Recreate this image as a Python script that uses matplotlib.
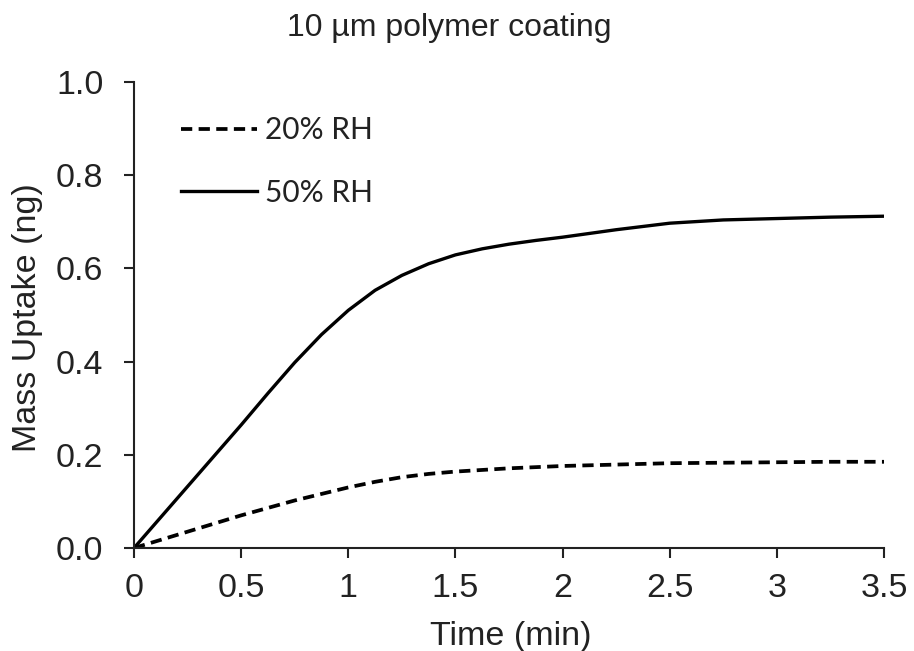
import matplotlib
matplotlib.use("Agg")
import matplotlib.pyplot as plt

# mass uptake readings (ng) against time (min)
time_50rh = [0, 0.125, 0.25, 0.375, 0.5, 0.625, 0.75, 0.875, 1.0, 1.125, 1.25, 1.375, 1.5,
             1.625, 1.75, 1.875, 2.0, 2.25, 2.5, 2.75, 3.0, 3.25, 3.5]
uptake_50rh = [0, 0.066, 0.132, 0.198, 0.264, 0.332, 0.398, 0.458, 0.51, 0.553, 0.585, 0.61, 0.629,
               0.642, 0.652, 0.66, 0.667, 0.683, 0.697, 0.704, 0.707, 0.71, 0.712]

time_20rh = [0, 0.25, 0.5, 0.75, 1.0, 1.125, 1.25, 1.375, 1.5, 1.75, 2.0, 2.25, 2.5, 2.75, 3.0, 3.25, 3.5]
uptake_20rh = [0, 0.035, 0.07, 0.102, 0.13, 0.142, 0.152, 0.159, 0.164, 0.171, 0.176, 0.179, 0.182,
               0.183, 0.184, 0.185, 0.185]

xticks = [0, 0.5, 1, 1.5, 2, 2.5, 3, 3.5]
xtick_labels = ["0", "0.5", "1", "1.5", "2", "2.5", "3", "3.5"]
yticks = [0.0, 0.2, 0.4, 0.6, 0.8, 1.0]

plt.rcParams['font.family'] = ['Liberation Sans', 'DejaVu Sans']
ink = '#222222'

fig = plt.figure(figsize=(9.14, 6.51), dpi=100)
ax = fig.add_axes([134 / 914, 1 - 548 / 651, 750 / 914, 466 / 651])

ax.plot(time_20rh, uptake_20rh, color='black', lw=2.7, dashes=(3.0, 1.7), label='20% RH')
ax.plot(time_50rh, uptake_50rh, color='black', lw=2.4, label='50% RH')

ax.set_xlim(0, 3.5)
ax.set_ylim(0, 1.0)
ax.set_xticks(xticks)
ax.set_xticklabels(xtick_labels)
ax.set_yticks(yticks)
ax.set_yticklabels([f"{v:.1f}" for v in yticks])

for s in ['top', 'right']:
    ax.spines[s].set_visible(False)
for s in ['left', 'bottom']:
    ax.spines[s].set_linewidth(1.5)
    ax.spines[s].set_color(ink)

ax.tick_params(axis='both', direction='out', length=7, width=1.5, color=ink,
               labelsize=24.5, labelcolor=ink)
ax.tick_params(axis='x', pad=11)
ax.tick_params(axis='y', pad=15)

ax.set_xlabel('Time (min)', fontsize=24.5, color=ink)
ax.xaxis.set_label_coords(511 / 914, 1 - 645 / 651, transform=fig.transFigure)
ax.xaxis.label.set_va('baseline')
ax.set_ylabel('Mass Uptake (ng)', fontsize=24.5, color=ink)
ax.yaxis.set_label_coords(28 / 914, 1 - 318 / 651, transform=fig.transFigure)
ax.yaxis.label.set_va('center')

fig.text(449 / 914, 1 - 36 / 651, '10 µm polymer coating', ha='center', va='baseline',
         fontsize=23, color=ink)

leg = ax.legend(loc='upper left', bbox_to_anchor=(181 / 914, 1 - 116 / 651),
                bbox_transform=fig.transFigure, frameon=False,
                prop={'family': 'Lato', 'size': 21.5}, handlelength=2.55,
                handletextpad=0.27, labelspacing=1.17, borderpad=0, borderaxespad=0)
for t in leg.get_texts():
    t.set_color(ink)

fig.savefig('out.png', dpi=100)
